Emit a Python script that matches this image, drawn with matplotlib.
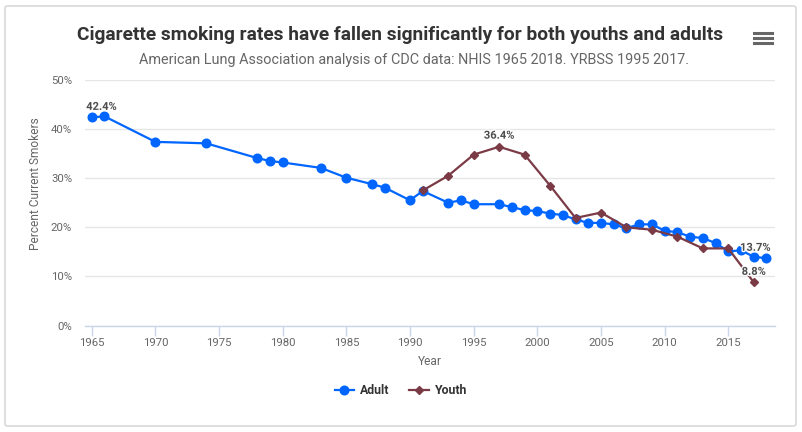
import matplotlib
matplotlib.use("Agg")
import matplotlib.pyplot as plt
from matplotlib.patches import FancyBboxPatch
import matplotlib.patheffects as pe

plt.rcParams['font.family'] = ['Roboto', 'DejaVu Sans']

# data
adult_years = [1965, 1966, 1970, 1974, 1978, 1979, 1980, 1983, 1985, 1987, 1988,
               1990, 1991, 1993, 1994, 1995, 1997, 1998, 1999, 2000, 2001, 2002,
               2003, 2004, 2005, 2006, 2007, 2008, 2009, 2010, 2011, 2012, 2013,
               2014, 2015, 2016, 2017, 2018]
adult_rate = [42.4, 42.6, 37.4, 37.1, 34.1, 33.5, 33.2, 32.1, 30.1, 28.8, 28.1,
              25.5, 27.4, 25.0, 25.5, 24.7, 24.7, 24.1, 23.5, 23.3, 22.8, 22.5,
              21.6, 20.9, 20.9, 20.6, 19.8, 20.6, 20.6, 19.3, 19.0, 18.1, 17.8,
              16.8, 15.1, 15.3, 14.0, 13.7]

youth_years = [1991, 1993, 1995, 1997, 1999, 2001, 2003, 2005, 2007, 2009, 2011,
               2013, 2015, 2017]
youth_rate = [27.5, 30.5, 34.8, 36.4, 34.8, 28.5, 21.9, 23.0, 20.0, 19.5, 18.1,
              15.7, 15.7, 8.8]

y_ticks = [0, 10, 20, 30, 40, 50]
x_ticks = [1965, 1970, 1975, 1980, 1985, 1990, 1995, 2000, 2005, 2010, 2015]

adult_color = '#0066ff'
youth_color = '#7b3b46'

W, H = 802, 432
fig = plt.figure(figsize=(W / 100, H / 100), dpi=100)

# outer frame
fig.patches.append(FancyBboxPatch((5 / W, 6 / H), 791 / W, 420 / H,
                                  boxstyle="round,pad=0,rounding_size=0.004",
                                  transform=fig.transFigure, fill=False,
                                  edgecolor='#d9d9d9', linewidth=1.2))

ax = fig.add_axes([84.6 / W, 1 - 325.5 / H, (775 - 84.6) / W, (325.5 - 80) / H])

ax.plot(adult_years, adult_rate, color=adult_color, lw=1.6, marker='o',
        ms=6.2, zorder=3, label='Adult')
ax.plot(youth_years, youth_rate, color=youth_color, lw=1.6, marker='D',
        ms=4.0, zorder=4, label='Youth')

ax.set_xlim(1964.44, 2018.67)
ax.set_ylim(0, 50)
ax.set_yticks(y_ticks)
ax.set_yticklabels([f'{v}%' for v in y_ticks])
ax.set_xticks(x_ticks)

for s in ['top', 'right', 'left']:
    ax.spines[s].set_visible(False)
ax.spines['bottom'].set_color('#ccd6eb')
ax.spines['bottom'].set_linewidth(1)
ax.grid(axis='y', color='#e6e6e6', lw=1)
ax.set_axisbelow(True)
ax.tick_params(axis='y', length=0, pad=9, labelsize=8.2, labelcolor='#666666')
ax.tick_params(axis='x', length=7, width=1, color='#ccd6eb', pad=2,
               labelsize=8.2, labelcolor='#666666')

ax.set_xlabel('Year', fontsize=8.6, color='#666666', labelpad=5)
fig.text(36 / W, 1 - 184 / H, 'Percent Current Smokers', rotation=90,
         ha='center', va='center', fontsize=8.6, color='#666666')

# data labels
outline = [pe.withStroke(linewidth=2, foreground='white')]
labels = [(adult_years[0], adult_rate[0], '42.4%', 7, 7.5),
          (youth_years[3], youth_rate[3], '36.4%', 0, 8),
          (adult_years[-1], adult_rate[-1], '13.7%', -8, 7.5),
          (youth_years[-1], youth_rate[-1], '8.8%', 0, 7.5)]
for x, y, t, dx, dy in labels:
    ax.annotate(t, (x, y), xytext=(dx, dy), textcoords='offset points',
                ha='center', va='center', fontsize=8, fontweight='bold',
                color='#4d4d4d', path_effects=outline, zorder=6)

fig.text(400 / W, 1 - 35.5 / H,
         'Cigarette smoking rates have fallen significantly for both youths and adults',
         ha='center', va='center', fontsize=13.8, fontweight='bold', color='#333333')
fig.text(414 / W, 1 - 60 / H,
         'American Lung Association analysis of CDC data: NHIS 1965 2018. YRBSS 1995 2017.',
         ha='center', va='center', fontsize=10.4, color='#666666')

# menu icon
for yy in [33.3, 38.3, 43.3]:
    fig.add_artist(plt.Line2D([754 / W, 771.5 / W], [1 - yy / H, 1 - yy / H],
                              color='#666666', lw=2.2,
                              transform=fig.transFigure))

leg = fig.legend(handles=ax.get_lines(), loc='center', ncol=2,
                 bbox_to_anchor=(401 / W, 1 - 391 / H), frameon=False,
                 handlelength=1.6, handletextpad=0.5,
                 columnspacing=1.6, prop={'weight': 'bold', 'size': 8.8})
for t in leg.get_texts():
    t.set_color('#333333')

fig.savefig('out.png', dpi=100)
